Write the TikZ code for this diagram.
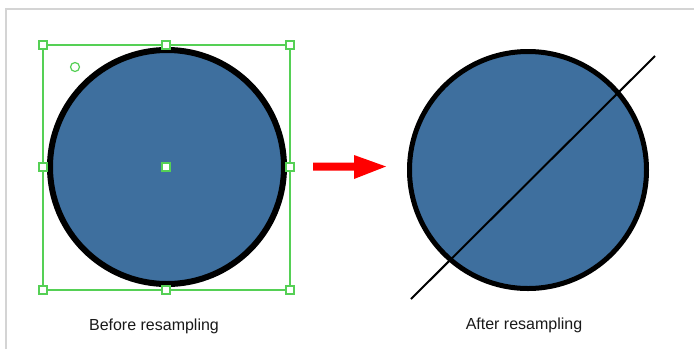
\documentclass[tikz,border=0pt]{standalone}
\usepackage{fontspec}
\setmainfont{Liberation Sans}
\begin{document}
\begin{tikzpicture}[x=1pt,y=-1pt,
  disc/.style={circle,draw=black,line width=6pt,fill=discblue,inner sep=0pt},
  handle/.style={rectangle,draw=selgreen,fill=white,line width=1.3pt,minimum size=8pt,inner sep=0pt},
  caption/.style={font=\fontsize{16}{19}\selectfont,text=black!90,inner sep=0pt}]
\definecolor{discblue}{HTML}{3E6F9E}
\definecolor{selgreen}{HTML}{55D055}
\definecolor{framegray}{HTML}{D4D4D4}
\useasboundingbox (0,0) rectangle (694,349);
% frame
\draw[framegray,line width=2pt] (6,349) -- (6,9) -- (694,9);
% left disc
\node[disc,minimum size=234pt] (before) at (167,167) {};
% selection box
\draw[selgreen,line width=1.2pt] (43,45) rectangle (290,290);
\node[handle] (h1) at (43,45) {};
\node[handle] (h2) at (166,45) {};
\node[handle] (h3) at (290,45) {};
\node[handle] (h4) at (43,167) {};
\node[handle] (h5) at (290,167) {};
\node[handle] (h6) at (43,290) {};
\node[handle] (h7) at (166,290) {};
\node[handle] (h8) at (290,290) {};
\node[handle] (hc) at (166,167) {};
\node[circle,draw=selgreen,line width=1.2pt,minimum size=9pt,inner sep=0pt] (rot) at (75,67) {};
% right disc
\node[disc,line width=5pt,minimum size=237pt] (after) at (528,170) {};
\coordinate (cutA) at (411,299);
\coordinate (cutB) at (655,56);
\draw[black,line width=2pt] (cutA) -- (cutB);
% arrow
\coordinate (arrS) at (313,166.5);
\coordinate (arrE) at (386,166.5);
\fill[red] (313,162.5) -- (354,162.5) -- (354,155) -- (arrE) -- (354,179) -- (354,170.5) -- (313,170.5) -- cycle;
% captions
\node[caption] (capB) at (154,326) {Before resampling};
\node[caption] (capA) at (524,325) {After resampling};
\end{tikzpicture}
\end{document}
